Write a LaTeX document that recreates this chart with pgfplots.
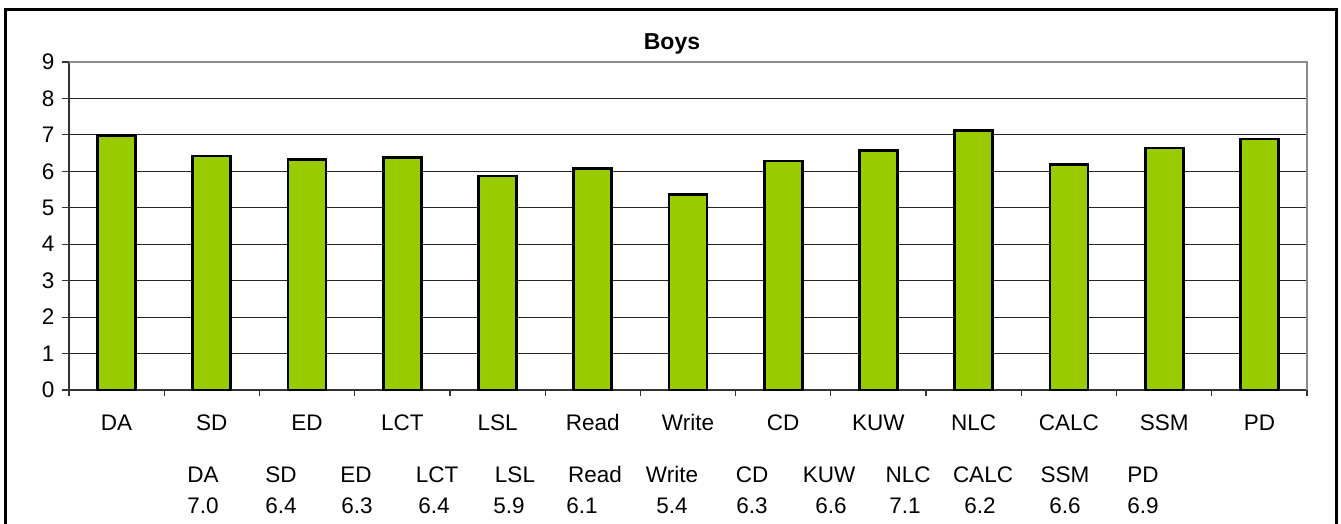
\documentclass[border=0pt]{standalone}
\usepackage{pgfplots}
\pgfplotsset{compat=1.18}
\usepackage{fontspec}
\setmainfont{Liberation Sans}
\definecolor{bargreen}{HTML}{99CC00}
\begin{document}
\begin{tikzpicture}[x=1pt,y=1pt]
\path[use as bounding box] (0pt,0pt) rectangle (1341pt,-524pt);
\draw[line width=3pt] (5.5pt,-560pt) -- (5.5pt,-9.5pt) -- (1336pt,-9.5pt) -- (1336pt,-560pt);
\begin{axis}[
  at={(69pt,-390pt)}, anchor=south west,
  scale only axis, width=1238pt, height=328pt,
  xmin=-0.5, xmax=12.5, ymin=0, ymax=9,
  axis x line*=bottom, axis y line*=left,
  axis line style={line width=1.6pt, black!80},
  xtick={0,...,12},
  xticklabels={DA,SD,ED,LCT,LSL,Read,Write,CD,KUW,NLC,CALC,SSM,PD},
  minor xtick={-0.5,0.5,...,12.5},
  major x tick style={draw=none},
  minor x tick style={line width=1.2pt, black!80},
  minor tick length=6pt,
  xtick align=outside,
  ytick={0,...,9},
  ytick align=outside,
  major tick length=7pt,
  y tick style={line width=1.2pt, black!80},
  ymajorgrids, grid style={line width=0.9pt, black!85},
  tick label style={font=\fontsize{22.5}{26}\selectfont},
  xticklabel style={text height=16pt, text depth=0pt, yshift=-14pt},
  yticklabel style={xshift=-4pt},
  /pgf/number format/assume math mode=true,
  clip=false,
]
\draw[line width=2pt, black!45] (rel axis cs:0,1) -- (rel axis cs:1,1) -- (rel axis cs:1,0);
\addplot[ybar, bar width=38pt, fill=bargreen, draw=black, line width=2.7pt]
  coordinates {(0,6.98) (1,6.42) (2,6.33) (3,6.38) (4,5.87) (5,6.08) (6,5.36) (7,6.28) (8,6.57) (9,7.12) (10,6.19) (11,6.64) (12,6.89)};
\end{axis}
\node[font=\bfseries\fontsize{23}{26}\selectfont] at (672pt,-44pt) {Boys};
\foreach \x/\t in {203/DA,281/SD,356/ED,437/LCT,515/LSL,595/Read,672/Write,752/CD,829/KUW,908/NLC,983/CALC,1065/SSM,1143/PD}
  \node[font=\fontsize{22.5}{26}\selectfont, anchor=base] at (\x pt,-482pt) {\t};
\foreach \x/\t in {203/7.0,281/6.4,357/6.3,434/6.4,509/5.9,582/6.1,672/5.4,752/6.3,831/6.6,905/7.1,980/6.2,1065/6.6,1143/6.9}
  \node[font=\fontsize{22.5}{26}\selectfont, anchor=base] at (\x pt,-513pt) {\t};
\end{tikzpicture}
\end{document}
